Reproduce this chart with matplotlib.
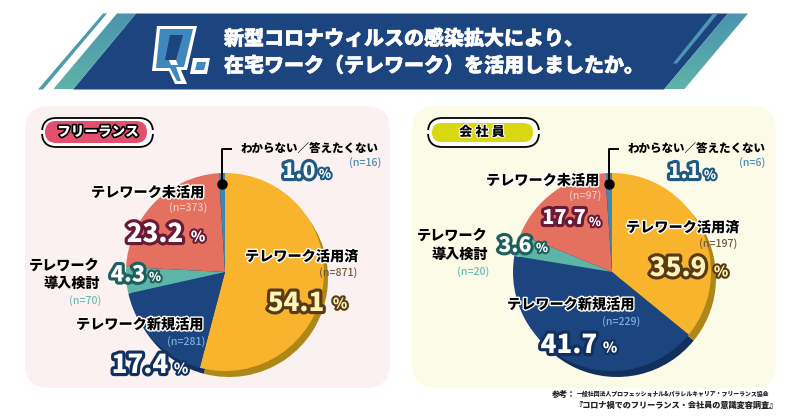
#!/usr/bin/env python3

'''Telework survey infographic: freelance vs company employee pies'''

import matplotlib
matplotlib.use('Agg')
import matplotlib.pyplot as plt
import matplotlib.patheffects as pe
from matplotlib.patches import FancyBboxPatch, Polygon, Rectangle
import numpy as np

plt.rcParams['font.family'] = ['Noto Sans CJK JP', 'DejaVu Sans']

W, H = 800, 419

title_lines = ['新型コロナウィルスの感染拡大により、', '在宅ワーク（テレワーク）を活用しましたか。']
categories = ['テレワーク活用済', 'テレワーク新規活用', '導入検討', 'テレワーク未活用', 'わからない／答えたくない']
free_values = [54.1, 17.4, 4.3, 23.2, 1.0]
free_counts = [871, 281, 70, 373, 16]
emp_values = [35.9, 41.7, 3.6, 17.7, 1.1]
emp_counts = [197, 229, 20, 97, 6]

ORANGE, NAVY, TEAL, SALMON, BLUE = '#f8b42d', '#1c447f', '#5cb5a8', '#e4705f', '#3f87ad'
pie_colors = [ORANGE, NAVY, TEAL, SALMON, BLUE]
shadow_colors = ['#ad8718', '#12305e', '#12305e', '#12305e', '#12305e']

fig = plt.figure(figsize=(W / 100, H / 100), dpi=100)
ax = fig.add_axes([0, 0, 1, 1])


def Y(y):
    return H - y


def pts(coords):
    return [(x, Y(y)) for x, y in coords]


def poly(coords, color, z=2):
    ax.add_patch(Polygon(pts(coords), closed=True, facecolor=color, edgecolor='none', zorder=z))


def gradient_poly(coords, top, bottom, z=2):
    '''polygon with vertical fill between two colours'''
    c1 = np.array(matplotlib.colors.to_rgb(top))
    c2 = np.array(matplotlib.colors.to_rgb(bottom))
    t = np.linspace(0, 1, 64)[:, None, None]
    img = c1[None, None, :] * (1 - t) + c2[None, None, :] * t
    ys = [c[1] for c in coords]
    xs = [c[0] for c in coords]
    im = ax.imshow(img, extent=(min(xs), max(xs), Y(max(ys)), Y(min(ys))), aspect='auto', zorder=z)
    p = Polygon(pts(coords), closed=True, transform=ax.transData, facecolor='none', edgecolor='none')
    ax.add_patch(p)
    im.set_clip_path(p)


def txt(x, y, s, size, color='black', ha='left', stroke=None, sw=2.0, weight='black', fat=0.0, z=6):
    t = ax.text(x, Y(y), s, fontsize=size, color=color, ha=ha, va='center', fontweight=weight, zorder=z)
    effects = []
    if stroke:
        effects.append(pe.withStroke(linewidth=sw, foreground=stroke))
    if fat:
        # thickens the glyphs a little
        effects.append(pe.withStroke(linewidth=fat, foreground=color))
    if effects:
        t.set_path_effects(effects)
    return t


def panel(x0, y0, x1, y1, color):
    ax.add_patch(FancyBboxPatch((x0 + 24, Y(y1) + 24), x1 - x0 - 48, y1 - y0 - 48,
                                boxstyle='round,pad=24,rounding_size=24',
                                facecolor=color, edgecolor='none', zorder=1))


def pill(x0, y0, x1, y1, ox0, oy0, ox1, oy1, color, bg):
    ro = (oy1 - oy0) / 2
    ax.add_patch(FancyBboxPatch((ox0 + ro, Y(oy1) + ro), ox1 - ox0 - 2 * ro, 0.01,
                                boxstyle='round,pad=%f,rounding_size=%f' % (ro, ro),
                                facecolor='white', edgecolor='black', linewidth=1.3, zorder=3))
    # gaps in the outline at both ends
    ax.add_patch(Rectangle((ox0 - 2, Y((oy0 + oy1) / 2) - 2), 6, 4, facecolor=bg, edgecolor='none', zorder=3))
    ax.add_patch(Rectangle((ox1 - 4, Y((oy0 + oy1) / 2) - 2), 6, 4, facecolor=bg, edgecolor='none', zorder=3))
    r = (y1 - y0) / 2
    ax.add_patch(FancyBboxPatch((x0 + r, Y(y1) + r), x1 - x0 - 2 * r, 0.01,
                                boxstyle='round,pad=%f,rounding_size=%f' % (r, r),
                                facecolor=color, edgecolor='none', zorder=4))


def draw_pie(values, cx, cy, r, dx, dy):
    ax.pie(values, colors=shadow_colors, startangle=90, counterclock=False, radius=r,
           center=(cx + dx, Y(cy + dy)), frame=True, wedgeprops={'linewidth': 0})
    ax.pie(values, colors=pie_colors, startangle=90, counterclock=False, radius=r,
           center=(cx, Y(cy)), frame=True, wedgeprops={'linewidth': 0})
    for w in ax.patches[-2 * len(values):-len(values)]:
        w.set_zorder(2)
    for w in ax.patches[-len(values):]:
        w.set_zorder(3)


def value_label(x, y, val, px, pct_x, pct_y, color, edge, fill='white'):
    txt(x, y, '%.1f' % val, px * 0.72, color=fill, ha='center', stroke=edge, sw=4.5)
    txt(pct_x, pct_y, '%', 10.5 if px > 24 else 8.8, color=fill, ha='center', stroke=edge, sw=3.0)


def n_label(x, y, n, color):
    txt(x, y, '(n=%d)' % n, 7.6, color=color, ha='right', weight='medium')


# banner
poly([(136, 13.5), (728, 13.5), (664, 89.5), (73, 89.5)], NAVY)
gradient_poly([(117, 13.5), (136, 13.5), (73, 89.5), (53, 89.5)], '#4a94ae', '#5fb2a8', z=2)
poly([(103, 13.5), (107, 13.5), (43, 89.5), (38, 89.5)], '#4f9ab0')
gradient_poly([(728, 13.5), (748, 13.5), (684, 89.5), (664, 89.5)], '#4a94ae', '#5fb2a8', z=2)
poly([(713, 13.5), (718, 13.5), (677, 63.5), (673, 63.5)], '#4f93b5')

# Q mark
poly([(157, 26), (197, 26), (187, 70), (181, 70), (187, 84), (175, 84), (169, 71), (152, 71)], 'white', 3)
poly([(160, 29), (193, 29), (184, 67), (176, 67), (181, 81), (177, 81), (170, 68), (156, 68)], '#3f87bd', 3)
poly([(170, 35), (183, 35), (176, 60), (165, 60)], NAVY, 4)
poly([(169, 60), (176, 60), (178, 65), (171, 65)], 'white', 4)
poly([(193, 58), (210, 58), (207, 74), (190, 74)], 'white', 3)
poly([(197, 62), (206, 62), (204, 70), (195, 70)], '#3f87bd', 3)

txt(224, 39, title_lines[0], 14.4, color='white', fat=0.4)
txt(224, 66, title_lines[1], 14.4, color='white', fat=0.4)

# panels
panel(25, 106, 390, 388, '#fbf1f1')
panel(412, 106, 776, 388, '#fbfbe8')

pill(45, 121, 147, 143, 42, 118, 153, 147, '#e3506e', '#fbf1f1')
txt(98, 132, 'フリーランス', 9.8, color='white', ha='center', stroke='black', sw=2.4)
pill(432, 123, 533, 142, 428, 118, 539, 147, '#d8d813', '#fbfbe8')
txt(482, 132, '会 社 員', 9.5, color='black', ha='center', stroke='white', sw=1.5)

# pies
draw_pie(free_values, 225, 272, 99, 4, 6)
draw_pie(emp_values, 612, 272, 99, 5, 6)

# leader lines
for lx, ly in [(222, 184), (609, 184)]:
    ax.plot([lx, lx, lx + 9], [Y(ly), Y(149.5), Y(149.5)], color='black', lw=1.4, zorder=5)
    ax.plot([lx], [Y(ly)], 'o', color='black', ms=6.5, zorder=5)

# freelance labels
N_GREY, N_TEAL, N_BLUE, N_LIGHT, N_PINK = '#6e5a40', '#6dbcb2', '#4a8db5', '#7aaedb', '#f3c6be'
txt(241, 149, categories[4], 8.3)
n_label(381, 163, free_counts[4], N_BLUE)
txt(91, 193, categories[3], 10.2, stroke='white')
n_label(207, 208, free_counts[3], N_PINK)
txt(245, 257, categories[0], 10.2, stroke='white')
n_label(357, 273, free_counts[0], N_GREY)
txt(100, 266, 'テレワーク', 10.2, ha='right')
txt(100, 284, categories[2], 10.2, ha='right')
n_label(101, 301, free_counts[2], N_TEAL)
txt(76, 325, categories[1], 10.2, stroke='white')
n_label(205, 342, free_counts[1], N_LIGHT)

value_label(296, 303, free_values[0], 26, 340, 304, ORANGE, '#5a3a12', fill='#fff4b8')
value_label(140, 365, free_values[1], 26, 181, 369, NAVY, '#12305e')
value_label(155, 234, free_values[3], 26, 198, 237, SALMON, '#6b1a35')
value_label(128, 275, free_values[2], 22, 155, 277, TEAL, '#1d5f5c')
value_label(299, 172, free_values[4], 21, 325, 174, BLUE, '#1f5a85')

# employee labels
txt(628, 149, categories[4], 8.3)
n_label(765, 163, emp_counts[4], N_BLUE)
txt(486, 181, categories[3], 10.2, stroke='white')
n_label(601, 196, emp_counts[3], N_PINK)
txt(626, 228, categories[0], 10.2, stroke='white')
n_label(737, 244, emp_counts[0], N_GREY)
txt(488, 236, 'テレワーク', 10.2, ha='right')
txt(488, 255, categories[2], 10.2, ha='right')
n_label(489, 272, emp_counts[2], N_TEAL)
txt(507, 305, categories[1], 10.2, stroke='white')
n_label(640, 322, emp_counts[1], N_LIGHT)

value_label(678, 268, emp_values[0], 26, 721, 272, ORANGE, '#5a3a12', fill='#fff4b8')
value_label(569, 345, emp_values[1], 26, 610, 348, NAVY, '#12305e')
value_label(515, 246, emp_values[2], 21, 542, 248, TEAL, '#1d5f5c')
value_label(564, 218, emp_values[3], 20, 595, 222, SALMON, '#6b1a35')
value_label(684, 172, emp_values[4], 20, 710, 175, BLUE, '#1f5a85')

# source
txt(552, 394, '参考：', 5.8, color='#222222')
txt(577, 394, '一般社団法人プロフェッショナル&パラレルキャリア・フリーランス協会', 4.25, color='#222222')
txt(574, 405, '『コロナ禍でのフリーランス・会社員の意識変容調査』', 5.9, color='#222222')

ax.set_xlim(0, W)
ax.set_ylim(0, H)
ax.set_aspect('auto')
ax.axis('off')

fig.savefig('out.png', dpi=100, facecolor='white')
